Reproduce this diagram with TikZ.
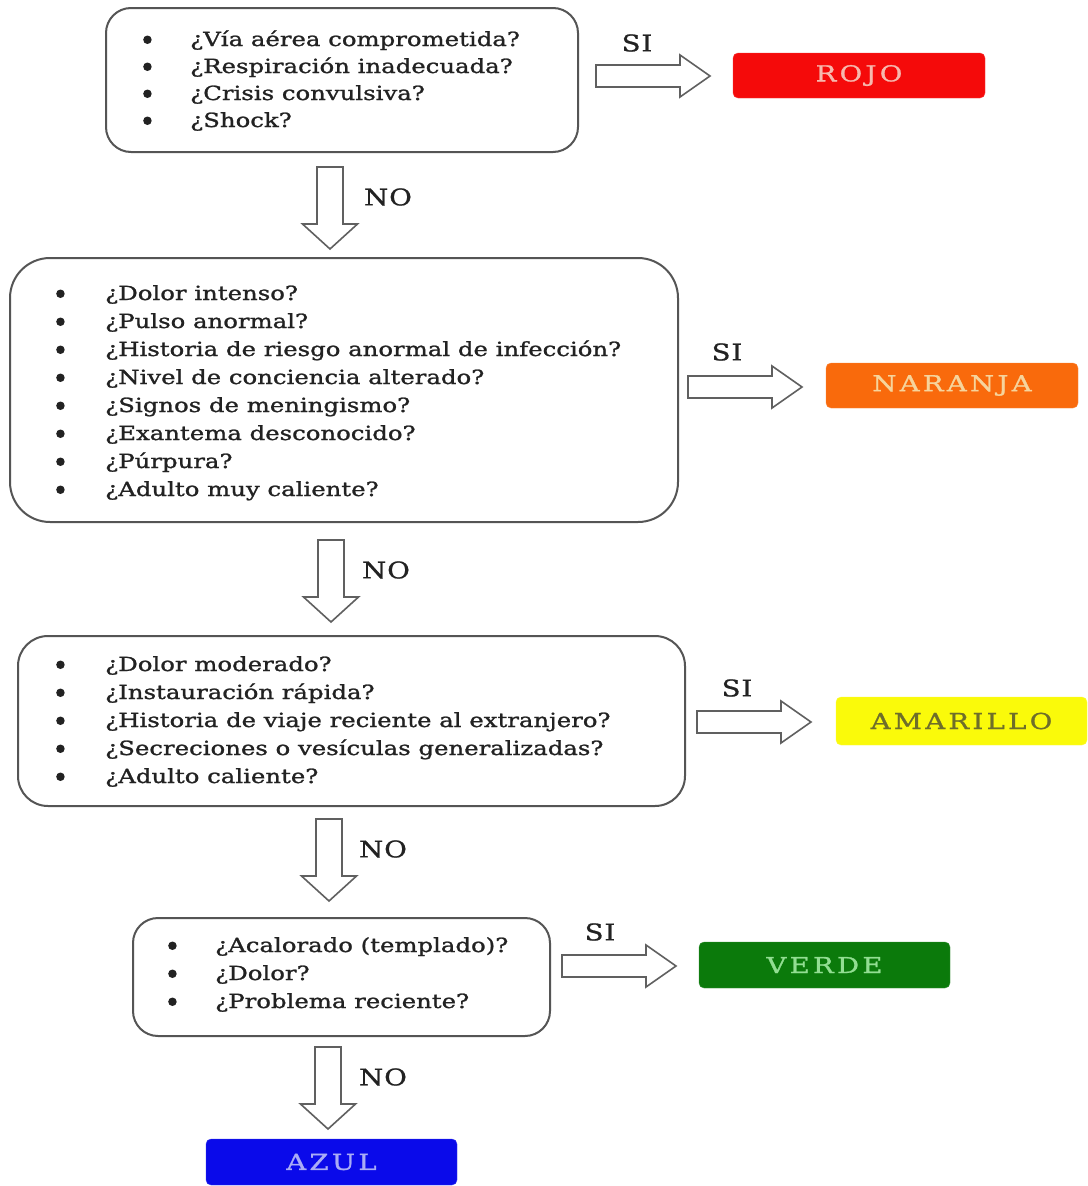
\documentclass[tikz,border=0pt]{standalone}
\usepackage{fontspec}
\setmainfont[FakeStretch=1.25,FakeBold=1.2]{DejaVu Serif}
\newfontfamily\lblfont[FakeStretch=1.25,LetterSpace=15,FakeBold=1.2]{DejaVu Serif}
\newfontfamily\sifont[FakeStretch=1.2,LetterSpace=4,FakeBold=1]{DejaVu Serif}
\usetikzlibrary{calc}
\definecolor{boxline}{HTML}{555555}
\definecolor{arrline}{HTML}{606060}
\definecolor{txt}{HTML}{222222}
\definecolor{rojo}{HTML}{F50A0A}
\definecolor{rojotxt}{HTML}{F7B8AE}
\definecolor{naranja}{HTML}{F96A0C}
\definecolor{naranjatxt}{HTML}{F6D49C}
\definecolor{amarillo}{HTML}{FAFA0A}
\definecolor{amarillotxt}{HTML}{6E6E2A}
\definecolor{verde}{HTML}{0B7A0B}
\definecolor{verdetxt}{HTML}{92DE92}
\definecolor{azul}{HTML}{0A0AEA}
\definecolor{azultxt}{HTML}{A9ACF6}
\newcommand\RBlock[1]{\draw[blk] (#1) ++(0,-11) -- ++(84,0) -- ++(0,-10) -- ++(30,21) -- ++(-30,21) -- ++(0,-10) -- ++(-84,0) -- cycle;}
\newcommand\DBlock[1]{\draw[blk] (#1) ++(-13,0) -- ++(0,57) -- ++(-14.5,0) -- ++(27.5,25) -- ++(27.5,-25) -- ++(-14.5,0) -- ++(0,-57) -- cycle;}
\newcommand\bul[1]{\makebox[#1pt][l]{\hspace*{3pt}\raisebox{1.8pt}{\tikz[baseline=(bb.south)]\node[circle, fill=txt, inner sep=0pt, minimum size=8.5pt] (bb) {};}}}
\begin{document}
\begin{tikzpicture}[x=1pt,y=-1pt,
  qbox/.style={draw=boxline, line width=2pt, fill=white, inner sep=0pt},
  qtext/.style={anchor=base west, inner sep=0pt, text=txt, font=\fontsize{19.5}{28}\selectfont},
  cbox/.style={rounded corners=5pt, inner sep=0pt, minimum width=252pt, minimum height=45pt, font=\lblfont\fontsize{22}{24}\selectfont},
  lbl/.style={inner sep=0pt, text=txt, font=\sifont\fontsize{23}{24}\selectfont},
  blk/.style={draw=arrline, line width=1.6pt, fill=white, line join=miter}]
\useasboundingbox (0,0) rectangle (1087,1186);
\fill[white] (0,0) rectangle (1087,1186);

% question boxes
\node[qbox, rounded corners=25pt, minimum width=472pt, minimum height=144pt] (b1) at (342,80) {};
\node[qbox, rounded corners=40pt, minimum width=668pt, minimum height=264pt] (b2) at (344,390) {};
\node[qbox, rounded corners=30pt, minimum width=667pt, minimum height=170pt] (b3) at (351.5,721) {};
\node[qbox, rounded corners=25pt, minimum width=417pt, minimum height=118pt] (b4) at (341.5,977) {};

\node[qtext, font=\fontsize{19.5}{27}\selectfont] (t1) at (140,46) {\begin{tabular}[t]{@{}l@{}l@{}}
\bul{50} & ¿Vía aérea comprometida?\\
\bul{50} & ¿Respiración inadecuada?\\
\bul{50} & ¿Crisis convulsiva?\\
\bul{50} & ¿Shock?
\end{tabular}};

\node[qtext] (t2) at (53,300) {\begin{tabular}[t]{@{}l@{}l@{}}
\bul{52} & ¿Dolor intenso?\\
\bul{52} & ¿Pulso anormal?\\
\bul{52} & ¿Historia de riesgo anormal de infección?\\
\bul{52} & ¿Nivel de conciencia alterado?\\
\bul{52} & ¿Signos de meningismo?\\
\bul{52} & ¿Exantema desconocido?\\
\bul{52} & ¿Púrpura?\\
\bul{52} & ¿Adulto muy caliente?
\end{tabular}};

\node[qtext] (t3) at (53,671) {\begin{tabular}[t]{@{}l@{}l@{}}
\bul{52} & ¿Dolor moderado?\\
\bul{52} & ¿Instauración rápida?\\
\bul{52} & ¿Historia de viaje reciente al extranjero?\\
\bul{52} & ¿Secreciones o vesículas generalizadas?\\
\bul{52} & ¿Adulto caliente?
\end{tabular}};

\node[qtext] (t4) at (165,952) {\begin{tabular}[t]{@{}l@{}l@{}}
\bul{50} & ¿Acalorado (templado)?\\
\bul{50} & ¿Dolor?\\
\bul{50} & ¿Problema reciente?
\end{tabular}};

% colour boxes
\node[cbox, fill=rojo, draw=rojo!80!white, text=rojotxt] (rojo) at (859,75.5) {ROJO};
\node[cbox, fill=naranja, draw=naranja!80!white, text=naranjatxt] (naranja) at (952,385.5) {NARANJA};
\node[cbox, fill=amarillo, draw=amarillo!80!white, text=amarillotxt, minimum height=48pt, minimum width=251pt] (amarillo) at (961.5,721) {AMARILLO};
\node[cbox, fill=verde, draw=verde!80!white, text=verdetxt, minimum height=46pt, minimum width=251pt] (verde) at (824.5,965) {VERDE};
\node[cbox, fill=azul, draw=azul!80!white, text=azultxt, minimum height=46pt, minimum width=251pt] (azul) at (331.5,1162) {AZUL};

% block arrows (SI)
\coordinate (s1) at (596,76);
\coordinate (s2) at (688,387);
\coordinate (s3) at (697,722);
\coordinate (s4) at (562,966);
\RBlock{s1}
\RBlock{s2}
\RBlock{s3}
\RBlock{s4}

% block arrows (NO)
\coordinate (n1) at (330,167);
\coordinate (n2) at (331,540);
\coordinate (n3) at (329,819);
\coordinate (n4) at (328,1047);
\DBlock{n1}
\DBlock{n2}
\DBlock{n3}
\DBlock{n4}

% labels
\node[lbl] (si1) at (637,43) {SI};
\node[lbl] (si2) at (727,352) {SI};
\node[lbl] (si3) at (737,688) {SI};
\node[lbl] (si4) at (600,932) {SI};
\node[lbl] (no1) at (388,197) {NO};
\node[lbl] (no2) at (386,570) {NO};
\node[lbl] (no3) at (383,849) {NO};
\node[lbl] (no4) at (383,1077) {NO};
\end{tikzpicture}
\end{document}
